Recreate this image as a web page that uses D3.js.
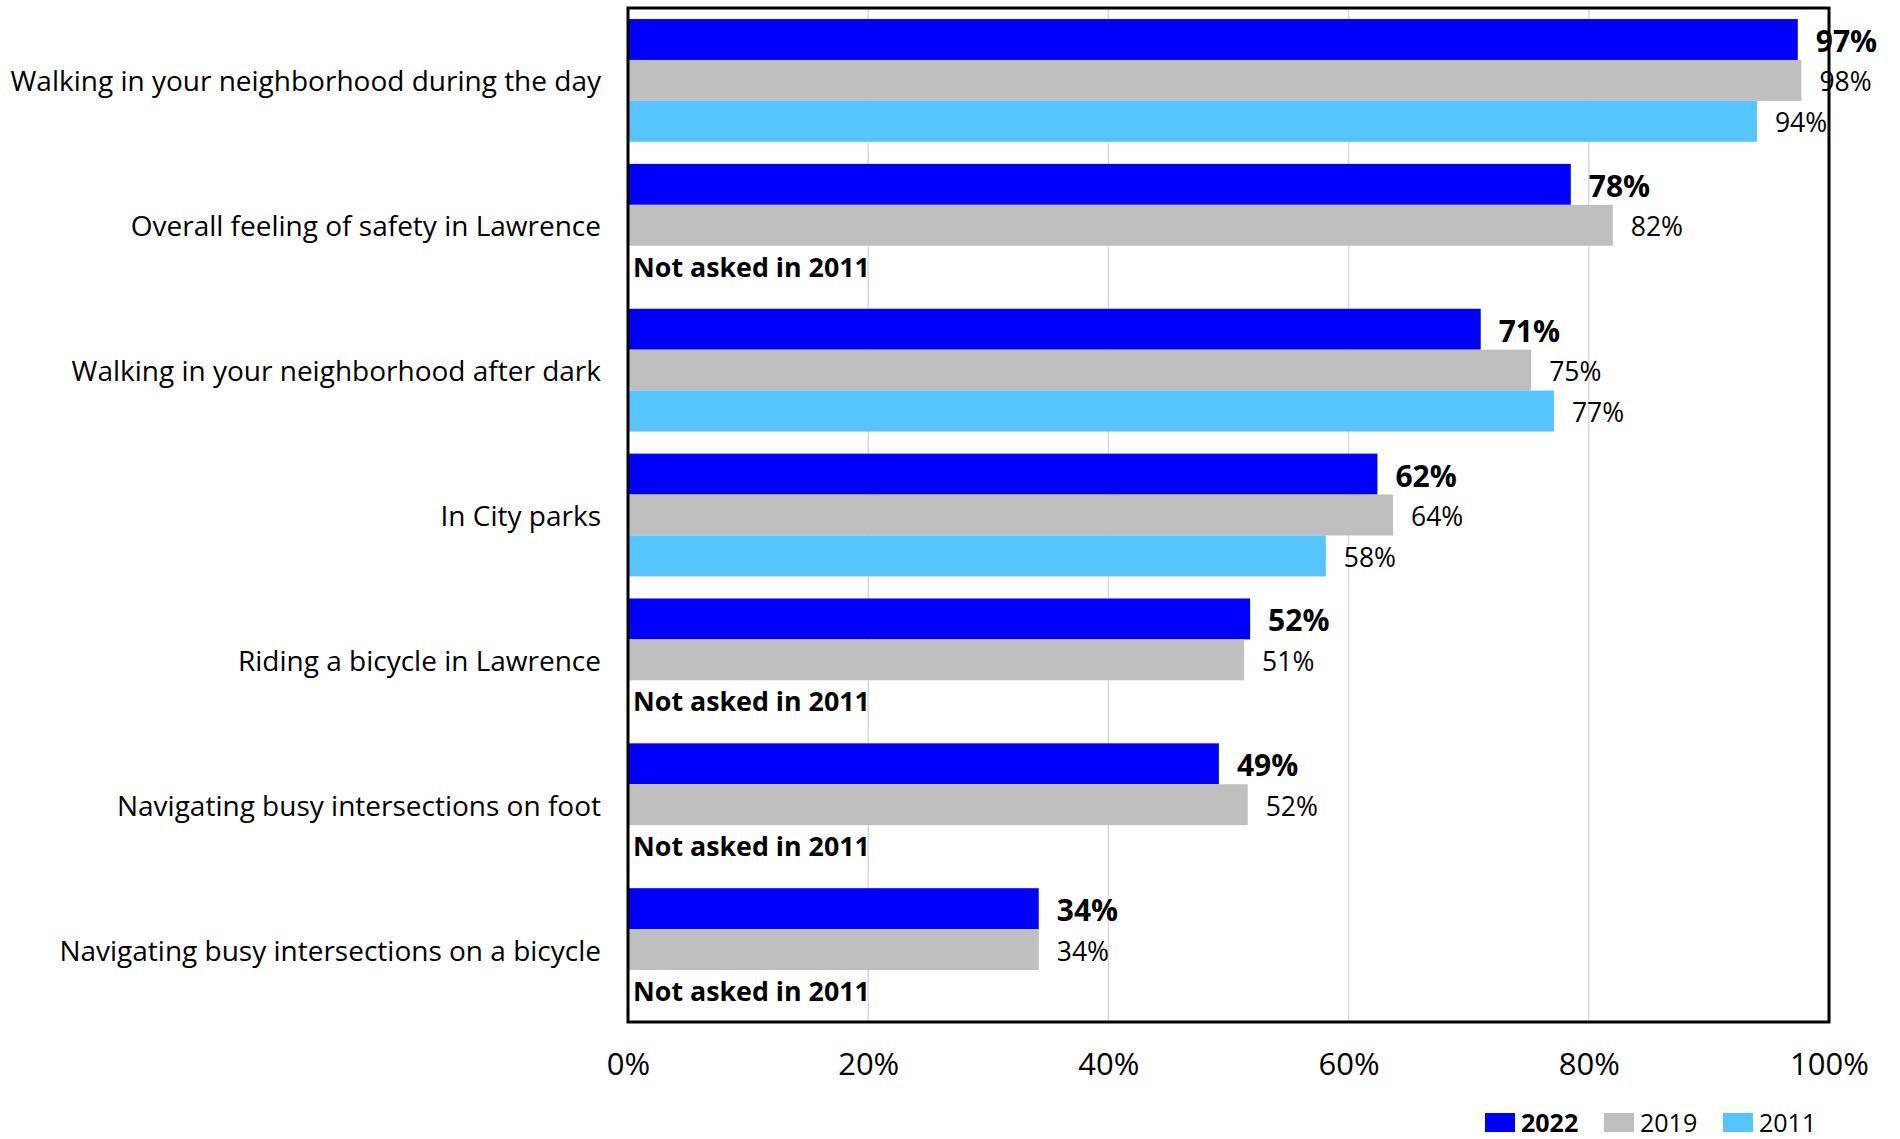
<!DOCTYPE html>
<html>
<head>
<meta charset="utf-8">
<script src="https://cdn.jsdelivr.net/npm/d3@7"></script>
<style>
  html, body { margin: 0; padding: 0; background: #ffffff; }
  svg { display: block; }
  text { font-family: "Open Sans", "Noto Sans", sans-serif; fill: #000; }
</style>
</head>
<body>
<svg id="chart" width="1900" height="1139"></svg>
<script>
// ---- Data ----
const categories = [
  "Walking in your neighborhood during the day",
  "Overall feeling of safety in Lawrence",
  "Walking in your neighborhood after dark",
  "In City parks",
  "Riding a bicycle in Lawrence",
  "Navigating busy intersections on foot",
  "Navigating busy intersections on a bicycle"
];
const seriesNames = ["2022", "2019", "2011"];
const values2022 = [97.4, 78.5, 71.0, 62.4, 51.8, 49.2, 34.2];
const values2019 = [97.7, 82.0, 75.2, 63.7, 51.3, 51.6, 34.2];
const values2011 = [94.0, null, 77.1, 58.1, null, null, null];
const labels2022 = ["97%", "78%", "71%", "62%", "52%", "49%", "34%"];
const labels2019 = ["98%", "82%", "75%", "64%", "51%", "52%", "34%"];
const labels2011 = ["94%", null, "77%", "58%", null, null, null];
const missingText = "Not asked in 2011";
const tickValues = [0, 20, 40, 60, 80, 100];
const tickLabels = ["0%", "20%", "40%", "60%", "80%", "100%"];
const colors = ["#0000FF", "#BFBFBF", "#56C5FF"];

const seriesValues = [values2022, values2019, values2011];
const seriesLabels = [labels2022, labels2019, labels2011];

// ---- Layout ----
const plot = { left: 628, right: 1829, top: 8, bottom: 1022 };
const svg = d3.select("#chart");

const x = d3.scaleLinear().domain([0, 100]).range([plot.left, plot.right]);
const y0 = d3.scaleBand().domain(categories).range([plot.top, plot.bottom]).padding(0);
const y1 = d3.scaleBand().domain(seriesNames).range([0, y0.bandwidth()])
  .paddingInner(0).paddingOuter(0.27);

// Gridlines
svg.append("g").selectAll("line")
  .data(tickValues.filter(t => t > 0 && t < 100))
  .join("line")
  .attr("x1", d => x(d)).attr("x2", d => x(d))
  .attr("y1", plot.top).attr("y2", plot.bottom)
  .attr("stroke", "#d9d9d9").attr("stroke-width", 1.5);

// Bars
const groups = svg.append("g").selectAll("g")
  .data(categories)
  .join("g")
  .attr("transform", d => `translate(0,${y0(d)})`);

groups.each(function(cat, i) {
  const g = d3.select(this);
  seriesNames.forEach((s, k) => {
    const v = seriesValues[k][i];
    if (v == null) {
      g.append("text")
        .attr("x", x(0) + 5)
        .attr("y", y1(s) + y1.bandwidth() / 2)
        .attr("dominant-baseline", "central")
        .attr("font-size", 26.8)
        .attr("font-weight", "bold")
        .text(missingText);
      return;
    }
    g.append("rect")
      .attr("x", x(0))
      .attr("y", y1(s))
      .attr("width", x(v) - x(0))
      .attr("height", y1.bandwidth())
      .attr("fill", colors[k]);
    g.append("text")
      .attr("x", x(v) + 18)
      .attr("y", y1(s) + y1.bandwidth() / 2 + 1)
      .attr("dominant-baseline", "central")
      .attr("font-size", k === 0 ? 30 : 26.5)
      .attr("font-weight", k === 0 ? "bold" : "normal")
      .text(seriesLabels[k][i]);
  });
});

// Category axis labels
svg.append("g").selectAll("text")
  .data(categories)
  .join("text")
  .attr("x", 601)
  .attr("y", d => y0(d) + y0.bandwidth() / 2)
  .attr("text-anchor", "end")
  .attr("dominant-baseline", "central")
  .attr("font-size", 28)
  .text(d => d);

// Frame
svg.append("rect")
  .attr("x", plot.left).attr("y", plot.top)
  .attr("width", plot.right - plot.left).attr("height", plot.bottom - plot.top)
  .attr("fill", "none").attr("stroke", "#000").attr("stroke-width", 3);

// X axis tick labels
const xAxis = d3.axisBottom(x).tickValues(tickValues)
  .tickFormat((d, i) => tickLabels[i]).tickSize(0).tickPadding(0);
const ax = svg.append("g").attr("transform", `translate(0,1063)`).call(xAxis);
ax.select(".domain").remove();
ax.selectAll("text")
  .attr("font-size", 31)
  .attr("font-family", "'Open Sans', 'Noto Sans', sans-serif")
  .attr("fill", "#000")
  .attr("dy", null)
  .attr("y", 0)
  .attr("dominant-baseline", "central");

// Legend
const legendX = [1485, 1604, 1723];
const legend = svg.append("g").selectAll("g")
  .data(seriesNames)
  .join("g")
  .attr("transform", (d, i) => `translate(${legendX[i]},1113)`);
legend.append("rect")
  .attr("width", 30).attr("height", 19)
  .attr("fill", (d, i) => colors[i]);
legend.append("text")
  .attr("x", 36).attr("y", 9)
  .attr("dominant-baseline", "central")
  .attr("font-size", 25)
  .attr("font-weight", (d, i) => i === 0 ? "bold" : "normal")
  .text(d => d);
</script>
</body>
</html>
